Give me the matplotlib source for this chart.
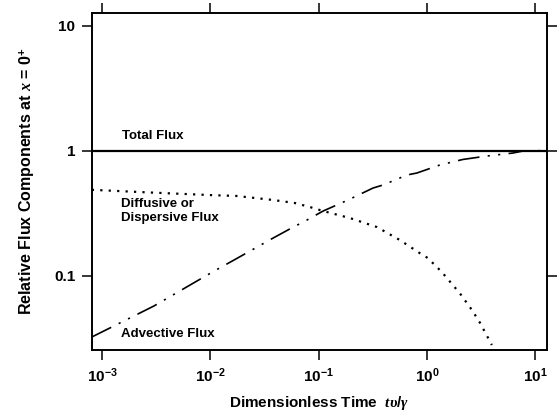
import numpy as np
import matplotlib
matplotlib.use("Agg")
import matplotlib.pyplot as plt
from matplotlib.ticker import FixedLocator, FixedFormatter, NullLocator

plt.rcParams['font.family'] = ['Liberation Sans', 'DejaVu Sans']
plt.rcParams['font.weight'] = 'bold'
plt.rcParams['axes.labelweight'] = 'bold'
plt.rcParams['mathtext.fontset'] = 'custom'
plt.rcParams['mathtext.rm'] = 'Liberation Sans:bold'
plt.rcParams['mathtext.bf'] = 'Liberation Sans:bold'
plt.rcParams['mathtext.it'] = 'Liberation Serif:italic'

# flux components at x = 0+ vs dimensionless time
total_t = [8.0e-4, 12.9]
total_f = [1.0, 1.0]

diff_t = [8.0e-4, 3e-3, 1e-2, 1.74e-2, 3.79e-2, 6.05e-2, 8.3e-2, 0.11, 0.195,
          0.346, 0.564, 0.86, 1.02, 1.37, 2.02, 2.61, 3.09, 3.99]
diff_f = [0.485, 0.46, 0.44, 0.433, 0.402, 0.38, 0.353, 0.328, 0.288,
          0.244, 0.192, 0.151, 0.138, 0.107, 0.072, 0.053, 0.042, 0.0278]

adv_t = [8.0e-4, 3e-3, 1.05e-2, 1.6e-2, 3.8e-2, 5.4e-2, 7.8e-2, 0.11, 0.187,
         0.318, 0.394, 0.655, 0.81, 1.32, 2.15, 3.59, 6.24, 7.7, 12.9]
adv_f = [0.0322, 0.057, 0.107, 0.131, 0.1995, 0.2355, 0.278, 0.328, 0.402,
         0.501, 0.53, 0.637, 0.661, 0.766, 0.848, 0.904, 0.955, 0.99, 1.0]

xticks = [1e-3, 1e-2, 1e-1, 1e0, 1e1]
xtick_labels = [r'$\mathbf{10^{-3}}$', r'$\mathbf{10^{-2}}$', r'$\mathbf{10^{-1}}$',
                r'$\mathbf{10^{0}}$', r'$\mathbf{10^{1}}$']
yticks = [0.1, 1, 10]
ytick_labels = ['0.1', '1', '10']

fig = plt.figure(figsize=(5.59, 4.17), dpi=100)
ax = fig.add_axes([0.1646, 0.1607, 0.814, 0.808])

ax.plot(total_t, total_f, color='black', lw=1.6, solid_capstyle='butt')
ax.plot(diff_t, diff_f, color='black', lw=1.6, linestyle=(0, (1, 2.8)))
ax.plot(adv_t, adv_f, color='black', lw=1.2,
        linestyle=(0, (13, 5, 1.3, 5, 1.3, 5)))

ax.set_xscale('log')
ax.set_yscale('log')
ax.set_xlim(10 ** -3.095, 10 ** 1.111)
ax.set_ylim(10 ** -1.596, 10 ** 1.1)

ax.xaxis.set_major_locator(FixedLocator(xticks))
ax.xaxis.set_major_formatter(FixedFormatter(xtick_labels))
ax.xaxis.set_minor_locator(NullLocator())
ax.yaxis.set_major_locator(FixedLocator(yticks))
ax.yaxis.set_major_formatter(FixedFormatter(ytick_labels))
ax.yaxis.set_minor_locator(NullLocator())

ax.tick_params(which='major', direction='out', length=7, width=1.1,
               top=True, right=True, labelsize=11, pad=5)
for s in ax.spines.values():
    s.set_linewidth(1.4)

ax.text(1.52e-3, 1.31, 'Total Flux', fontsize=9.5, va='center')
ax.text(1.49e-3, 0.328, 'Diffusive or\nDispersive Flux', fontsize=9.5,
        va='center', linespacing=1.25)
ax.text(1.49e-3, 0.034, 'Advective Flux', fontsize=9.5, va='center')

ax.set_xlabel(r'Dimensionless Time  $t\upsilon/\gamma$', fontsize=11, labelpad=6)
ax.set_ylabel(r'Relative Flux Components at $x$ = 0$^{+}$', fontsize=11.5, labelpad=12)

fig.savefig('out.png', dpi=100)
